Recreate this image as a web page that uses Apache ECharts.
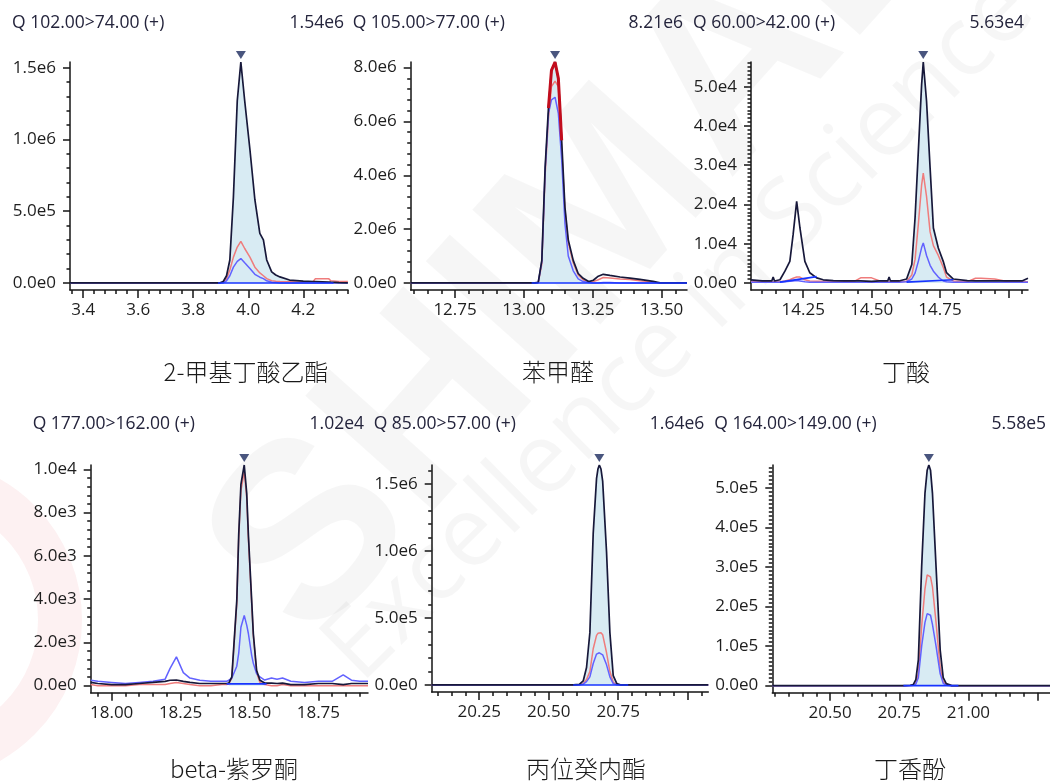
<!DOCTYPE html>
<html>
<head>
<meta charset="utf-8">
<script src="https://cdn.jsdelivr.net/npm/echarts@6/dist/echarts.min.js"></script>
<style>
  html, body { margin: 0; padding: 0; background: #ffffff; }
  #chart { width: 1050px; height: 782px; }
</style>
</head>
<body>
<div id="chart"></div>
<script>
// ---- Compounds and MRM transitions ----
const compounds = ['2-甲基丁酸乙酯', '苯甲醛', '丁酸', 'beta-紫罗酮', '丙位癸内酯', '丁香酚'];
const transitions = ['Q 102.00>74.00 (+)', 'Q 105.00>77.00 (+)', 'Q 60.00>42.00 (+)',
                     'Q 177.00>162.00 (+)', 'Q 85.00>57.00 (+)', 'Q 164.00>149.00 (+)'];

// ---- Panel 1: 2-甲基丁酸乙酯 (intensity x 1e6) ----
const scale1 = 1e6;
const time1  = [3.352, 3.50, 3.70, 3.88, 3.895, 3.909, 3.921, 3.933, 3.946, 3.960, 3.973, 3.987, 4.006, 4.024, 4.042, 4.055, 4.067, 4.085, 4.100, 4.115, 4.150, 4.200, 4.236, 4.244, 4.270, 4.292, 4.300, 4.330, 4.362];
const quant1 = [0, 0, 0, 0, 0, 0.01, 0.05, 0.16, 0.60, 1.27, 1.54, 1.27, 0.93, 0.58, 0.345, 0.30, 0.16, 0.077, 0.055, 0.042, 0.02, 0.012, 0.01, 0.01, 0.008, 0.006, 0.005, 0.002, 0];
const refA1  = [0, 0, 0, 0, 0, 0.005, 0.03, 0.09, 0.18, 0.25, 0.29, 0.24, 0.18, 0.11, 0.07, 0.05, 0.03, 0.015, 0.012, 0.01, 0.008, 0.005, 0.01, 0.03, 0.03, 0.03, 0.015, 0.01, 0.01];
const refB1  = [0, 0, 0, 0, 0, 0, 0.015, 0.05, 0.11, 0.15, 0.17, 0.14, 0.10, 0.06, 0.04, 0.03, 0.015, 0.005, 0.003, 0, 0, 0, 0, 0, 0, 0, 0, 0, 0];
const area1  = [3.895, 4.30];
const baseT1 = [3.89, 4.31];
const baseV1 = [0, 0];

// ---- Panel 2: 苯甲醛 (x 1e6) ----
const scale2 = 1e6;
const time2  = [12.589, 12.80, 13.00, 13.040, 13.052, 13.065, 13.077, 13.089, 13.100, 13.113, 13.125, 13.137, 13.149, 13.161, 13.179, 13.197, 13.215, 13.235, 13.252, 13.270, 13.288, 13.312, 13.349, 13.385, 13.421, 13.469, 13.494, 13.540, 13.592];
const quant2 = [0, 0, 0, 0, 0.02, 0.84, 4.3, 6.5, 7.9, 8.21, 7.6, 5.3, 2.8, 1.6, 0.84, 0.35, 0.17, 0.05, 0.1, 0.25, 0.32, 0.28, 0.22, 0.18, 0.13, 0.06, 0, 0, 0];
const refA2  = [0, 0, 0, 0, 0.01, 0.7, 4.0, 6.1, 7.3, 7.5, 7.3, 5.0, 2.7, 1.5, 0.75, 0.3, 0.12, 0.03, 0.05, 0.12, 0.2, 0.18, 0.15, 0.13, 0.08, 0.03, 0, 0, 0];
const refB2  = [0, 0, 0, 0, 0.02, 0.8, 4.2, 6.3, 6.8, 6.9, 6.3, 4.6, 2.2, 1.0, 0.45, 0.15, 0.05, 0.02, 0, 0, 0.02, 0.02, 0, 0, 0, 0, 0, 0, 0];
const area2  = [13.04, 13.245];
const baseT2 = [13.028, 13.592];
const baseV2 = [0, 0];
const saturated2 = [13.089, 13.137];   // apex section flagged in dark red

// ---- Panel 3: 丁酸 (x 1e4) ----
const scale3 = 1e4;
const time3  = [14.059, 14.10, 14.135, 14.140, 14.145, 14.165, 14.183, 14.201, 14.213, 14.226, 14.238, 14.256, 14.274, 14.299, 14.323, 14.360, 14.400, 14.440, 14.460, 14.500, 14.530, 14.559, 14.564, 14.569, 14.600, 14.628, 14.647, 14.659, 14.671, 14.683, 14.689, 14.701, 14.714, 14.726, 14.744, 14.762, 14.774, 14.799, 14.850, 14.880, 14.900, 14.950, 15.000, 15.050, 15.072];
const quant3 = [0.08, 0.05, 0.05, 0.15, 0.05, 0.08, 0.3, 0.55, 1.23, 2.08, 1.4, 0.55, 0.26, 0.13, 0.08, 0.06, 0.05, 0.05, 0.05, 0.04, 0.05, 0.05, 0.15, 0.05, 0.05, 0.1, 0.47, 1.66, 3.36, 5.06, 5.63, 4.63, 2.93, 1.4, 0.89, 0.55, 0.26, 0.1, 0.06, 0.05, 0.05, 0.05, 0.05, 0.05, 0.12];
const refA3  = [0.03, 0.03, 0.03, 0.03, 0.03, 0.03, 0.05, 0.08, 0.12, 0.15, 0.15, 0.08, 0.05, 0.04, 0.04, 0.03, 0.03, 0.05, 0.13, 0.13, 0.05, 0.03, 0.03, 0.03, 0.03, 0.04, 0.2, 0.6, 1.5, 2.5, 2.8, 2.2, 1.3, 0.95, 0.7, 0.4, 0.15, 0.05, 0.03, 0.12, 0.12, 0.1, 0.03, 0.03, 0.03];
const refB3  = [0.02, 0.02, 0.02, 0.02, 0.02, 0.02, 0.03, 0.04, 0.05, 0.06, 0.05, 0.03, 0.02, 0.02, 0.02, 0.02, 0.02, 0.02, 0.02, 0.02, 0.02, 0.02, 0.02, 0.02, 0.02, 0.03, 0.1, 0.25, 0.55, 0.9, 1.02, 0.7, 0.45, 0.3, 0.15, 0.05, 0.03, 0.02, 0.02, 0.02, 0.02, 0.02, 0.02, 0.02, 0.02];
const area3  = [14.628, 14.799];
const baseT3 = [14.165, 14.299, null, 14.628, 14.799];
const baseV3 = [0.02, 0.16, null, 0.02, 0.08];

// ---- Panel 4: beta-紫罗酮 (x 1e3) ----
const scale4 = 1e3;
const time4  = [17.924, 17.95, 18.00, 18.05, 18.10, 18.15, 18.194, 18.212, 18.235, 18.26, 18.284, 18.32, 18.36, 18.40, 18.417, 18.425, 18.436, 18.454, 18.461, 18.469, 18.481, 18.490, 18.496, 18.508, 18.514, 18.526, 18.538, 18.555, 18.58, 18.60, 18.62, 18.65, 18.70, 18.75, 18.80, 18.84, 18.87, 18.90, 18.93];
const quant4 = [0.15, 0.1, 0.05, 0.05, 0.1, 0.15, 0.2, 0.25, 0.26, 0.2, 0.15, 0.1, 0.1, 0.1, 0.1, 0.12, 0.41, 3.94, 7.0, 9.3, 10.2, 8.9, 7.0, 3.94, 2.4, 0.7, 0.25, 0.12, 0.12, 0.1, 0.12, 0.05, 0.05, 0.1, 0.1, 0.05, 0.1, 0.1, 0.1];
const refA4  = [0.05, 0, 0, 0, 0.05, 0.05, 0.05, 0.1, 0.15, 0.1, 0.05, 0, 0, 0.05, 0.05, 0.08, 0.35, 3.8, 6.8, 9.0, 9.9, 8.7, 6.8, 3.8, 2.3, 0.6, 0.15, 0.05, 0, 0, 0.05, 0, 0, 0, 0, 0, 0, 0, 0];
const refB4  = [0.25, 0.2, 0.15, 0.1, 0.15, 0.2, 0.3, 0.8, 1.33, 0.6, 0.35, 0.25, 0.2, 0.2, 0.2, 0.25, 0.35, 0.9, 1.5, 2.7, 3.25, 2.8, 2.41, 1.4, 1.03, 0.55, 0.4, 0.26, 0.35, 0.3, 0.35, 0.2, 0.15, 0.2, 0.2, 0.5, 0.25, 0.2, 0.2];
const area4  = [18.425, 18.555];
const baseT4 = [18.417, 18.562];
const baseV4 = [0.08, 0.08];

// ---- Panel 5: 丙位癸内酯 (x 1e6) ----
const scale5 = 1e6;
const time5  = [20.079, 20.30, 20.50, 20.588, 20.610, 20.624, 20.636, 20.648, 20.660, 20.672, 20.677, 20.682, 20.688, 20.694, 20.708, 20.720, 20.732, 20.745, 20.760, 20.786, 20.90, 21.074];
const quant5 = [0, 0, 0, 0, 0.005, 0.03, 0.13, 0.39, 1.13, 1.54, 1.61, 1.64, 1.61, 1.52, 0.99, 0.39, 0.07, 0.01, 0, 0, 0, 0];
const refA5  = [0, 0, 0, 0, 0.002, 0.01, 0.04, 0.1, 0.27, 0.37, 0.385, 0.39, 0.39, 0.375, 0.24, 0.1, 0.02, 0.003, 0, 0, 0, 0];
const refB5  = [0, 0, 0, 0, 0.001, 0.006, 0.025, 0.06, 0.16, 0.23, 0.238, 0.24, 0.238, 0.225, 0.15, 0.06, 0.01, 0.002, 0, 0, 0, 0];
const area5  = [20.61, 20.76];
const baseT5 = [20.588, 20.786];
const baseV5 = [0, 0];

// ---- Panel 6: 丁香酚 (x 1e5) ----
const scale6 = 1e5;
const time6  = [20.291, 20.50, 20.70, 20.765, 20.790, 20.801, 20.810, 20.819, 20.831, 20.843, 20.851, 20.857, 20.863, 20.870, 20.883, 20.898, 20.909, 20.920, 20.940, 20.964, 21.10, 21.295];
const quant6 = [0, 0, 0, 0, 0.01, 0.03, 0.15, 0.65, 3.01, 4.87, 5.45, 5.58, 5.45, 4.87, 3.01, 0.9, 0.2, 0.05, 0, 0, 0, 0];
const refA6  = [0, 0, 0, 0, 0.005, 0.01, 0.06, 0.3, 1.5, 2.45, 2.8, 2.85, 2.75, 2.5, 1.6, 0.45, 0.1, 0.02, 0, 0, 0, 0];
const refB6  = [0, 0, 0, 0, 0.003, 0.01, 0.04, 0.2, 1.0, 1.6, 1.82, 1.86, 1.78, 1.55, 1.0, 0.3, 0.06, 0.01, 0, 0, 0, 0];
const area6  = [20.80, 20.92];
const baseT6 = [20.765, 20.964];
const baseV6 = [0, 0];

// ---- Axis ranges and tick values ----
const xRanges = [[3.352, 4.3625], [12.589, 13.592], [14.059, 15.072], [17.924, 18.93], [20.079, 21.074], [20.291, 21.295]];
const xTickLabels = [[3.4, 3.6, 3.8, 4.0, 4.2], [12.75, 13.0, 13.25, 13.5], [14.25, 14.5, 14.75],
                     [18.0, 18.25, 18.5, 18.75], [20.25, 20.5, 20.75], [20.5, 20.75, 21.0]];
const xMajorTicks = [[3.4, 3.6, 3.8, 4.0, 4.2], [12.75, 13.0, 13.25, 13.5], [14.25, 14.5, 14.75, 15.0],
                     [18.0, 18.25, 18.5, 18.75], [20.25, 20.5, 20.75, 21.0], [20.5, 20.75, 21.0, 21.25]];
const xMinorStep = [0.04, 0.05, 0.05, 0.05, 0.05, 0.05];
const xDecimals = [1, 2, 2, 2, 2, 2];
const yTickLabels = [[0, 5e5, 1e6, 1.5e6], [0, 2e6, 4e6, 6e6, 8e6], [0, 1e4, 2e4, 3e4, 4e4, 5e4],
                     [0, 2e3, 4e3, 6e3, 8e3, 1e4], [0, 5e5, 1e6, 1.5e6], [0, 1e5, 2e5, 3e5, 4e5, 5e5]];
const yMinorStep = [1e5, 4e5, 1e3, 400, 1e5, 1e4];

const panels = [
  { scale: scale1, t: time1, q: quant1, a: refA1, b: refB1, area: area1, bt: baseT1, bv: baseV1 },
  { scale: scale2, t: time2, q: quant2, a: refA2, b: refB2, area: area2, bt: baseT2, bv: baseV2, sat: saturated2 },
  { scale: scale3, t: time3, q: quant3, a: refA3, b: refB3, area: area3, bt: baseT3, bv: baseV3 },
  { scale: scale4, t: time4, q: quant4, a: refA4, b: refB4, area: area4, bt: baseT4, bv: baseV4 },
  { scale: scale5, t: time5, q: quant5, a: refA5, b: refB5, area: area5, bt: baseT5, bv: baseV5 },
  { scale: scale6, t: time6, q: quant6, a: refA6, b: refB6, area: area6, bt: baseT6, bv: baseV6 }
];

// ---- Layout (pixels) ----
const grids = [
  { left: 70,    top: 62,  width: 278,   height: 228 },
  { left: 410.7, top: 62,  width: 276.3, height: 228 },
  { left: 751,   top: 62,  width: 277,   height: 228 },
  { left: 90.7,  top: 465, width: 277.3, height: 227.7 },
  { left: 431.7, top: 465, width: 276.6, height: 227 },
  { left: 772.3, top: 465, width: 277.7, height: 227.7 }
];
const headerY = [23, 23, 23, 424, 424, 424];
const nameX = [246, 558, 906, 234, 586, 910];
const nameY = [372, 372, 372, 769, 769, 769];
const bottomPad = 0.032;   // room between the zero level and the time axis

const C = {
  axis: '#141414', text: '#1e1e1e', header: '#24243c',
  quant: '#17183a', refA: '#ef7c7c', refB: '#6262ff',
  base: '#1734ff', fill: '#d8ebf3', marker: '#1b2a5e', sat: '#c20d1d'
};
const tickFont = '"Open Sans", "Noto Sans", sans-serif';

const expLabel = v => v.toExponential(1).replace('e+', 'e');
const steps = (lo, hi, step) => {
  const out = [];
  for (let k = Math.ceil(lo / step - 1e-9); k * step <= hi + 1e-9; k++) out.push(+(k * step).toFixed(6));
  return out;
};

const option = { animation: false, backgroundColor: '#ffffff', grid: [], xAxis: [], yAxis: [], series: [], graphic: [] };

// faint corporate watermark behind the plots
option.graphic.push(
  { type: 'text', x: 700, y: 110, rotation: 0.84, z: -20, silent: true,
    style: { text: 'SHIMADZU', font: 'bold 250px "Liberation Sans", Arial, sans-serif', fill: 'rgba(0,0,0,0.035)', align: 'center', verticalAlign: 'middle' } },
  { type: 'text', x: 680, y: 330, rotation: 0.78, z: -20, silent: true,
    style: { text: 'Excellence in Science', font: '98px "Open Sans", sans-serif', fill: 'rgba(0,0,0,0.035)', align: 'center', verticalAlign: 'middle' } },
  { type: 'circle', shape: { cx: -80, cy: 620, r: 140 }, z: -20, silent: true,
    style: { fill: 'none', stroke: 'rgba(220,20,30,0.06)', lineWidth: 44 } }
);

panels.forEach((p, i) => {
  const g = grids[i];
  option.grid.push({ left: g.left, top: g.top, width: g.width, height: g.height });

  const pts = arr => p.t.map((t, k) => [t, arr[k] * p.scale]);
  const quantPts = pts(p.q);
  let peakIdx = 0;
  p.q.forEach((v, k) => { if (v > p.q[peakIdx]) peakIdx = k; });
  const peak = quantPts[peakIdx];
  const yMax = peak[1];
  const yMin = -yMax * bottomPad;
  const [xMin, xMax] = xRanges[i];

  const lineStyle = { color: C.axis, width: 1.5 };
  // main time axis + minor ticks
  option.xAxis.push({
    type: 'value', gridIndex: i, min: xMin, max: xMax, position: 'bottom',
    axisLine: { show: true, onZero: false, lineStyle },
    axisTick: { show: true, customValues: xMajorTicks[i], length: 8, lineStyle },
    axisLabel: { customValues: xTickLabels[i], formatter: v => v.toFixed(xDecimals[i]),
                 fontSize: 17, color: C.text, margin: 12, fontFamily: tickFont },
    splitLine: { show: false }
  });
  option.xAxis.push({
    type: 'value', gridIndex: i, min: xMin, max: xMax, position: 'bottom',
    axisLine: { show: false, onZero: false },
    axisTick: { show: true, customValues: steps(xMin, xMax, xMinorStep[i]), length: 4, lineStyle },
    axisLabel: { show: false }, splitLine: { show: false }
  });
  // intensity axis + minor ticks
  option.yAxis.push({
    type: 'value', gridIndex: i, min: yMin, max: yMax, position: 'left',
    axisLine: { show: true, onZero: false, lineStyle },
    axisTick: { show: true, customValues: yTickLabels[i], length: 7, lineStyle },
    axisLabel: { customValues: yTickLabels[i], formatter: expLabel,
                 fontSize: 17, color: C.text, margin: 14, fontFamily: tickFont },
    splitLine: { show: false }
  });
  option.yAxis.push({
    type: 'value', gridIndex: i, min: yMin, max: yMax, position: 'left',
    axisLine: { show: false, onZero: false },
    axisTick: { show: true, customValues: steps(0, yMax, yMinorStep[i]), length: 3.5, lineStyle },
    axisLabel: { show: false }, splitLine: { show: false }
  });

  const xi = 2 * i, yi = 2 * i;
  const base = { type: 'line', xAxisIndex: xi, yAxisIndex: yi, showSymbol: false, symbol: 'none', silent: true };

  // integrated peak area
  option.series.push(Object.assign({}, base, {
    data: quantPts.filter(d => d[0] >= p.area[0] && d[0] <= p.area[1]),
    lineStyle: { width: 0 }, areaStyle: { color: C.fill, opacity: 1, origin: 0 }, z: 1
  }));
  option.series.push(Object.assign({}, base, { data: pts(p.a), lineStyle: { color: C.refA, width: 1.5 }, z: 3 }));
  option.series.push(Object.assign({}, base, { data: pts(p.b), lineStyle: { color: C.refB, width: 1.5 }, z: 3 }));
  option.series.push(Object.assign({}, base, { data: quantPts, lineStyle: { color: C.quant, width: 1.7 }, z: 4 }));
  if (p.sat) {
    option.series.push(Object.assign({}, base, {
      data: quantPts.filter(d => d[0] >= p.sat[0] && d[0] <= p.sat[1]),
      lineStyle: { color: C.sat, width: 3 }, z: 5
    }));
  }
  // integration baseline
  option.series.push(Object.assign({}, base, {
    data: p.bt.map((t, k) => (t === null ? '-' : [t, p.bv[k] * p.scale])), connectNulls: false,
    lineStyle: { color: C.base, width: 1.6 }, z: 6
  }));
  // peak top marker
  option.series.push({
    type: 'scatter', xAxisIndex: xi, yAxisIndex: yi, data: [peak], silent: true,
    symbol: 'triangle', symbolRotate: 180, symbolSize: [10, 8], symbolOffset: [0, -7],
    itemStyle: { color: C.marker }, z: 7
  });

  // headers: transition on the left, peak intensity on the right
  option.graphic.push({
    type: 'text', x: g.left - 58, y: headerY[i], z: 10, silent: true,
    style: { text: transitions[i], font: '17.5px ' + tickFont, fill: C.header, align: 'left', verticalAlign: 'middle' }
  });
  option.graphic.push({
    type: 'text', x: g.left + g.width - 4, y: headerY[i], z: 10, silent: true,
    style: { text: yMax.toExponential(2).replace('e+', 'e'), font: '17.5px ' + tickFont, fill: C.header, align: 'right', verticalAlign: 'middle' }
  });
  // compound name under the panel
  option.graphic.push({
    type: 'text', x: nameX[i], y: nameY[i], z: 10, silent: true,
    style: { text: compounds[i], font: '300 24px "Noto Sans CJK SC", "Noto Sans", sans-serif', fill: '#1a1a1a', align: 'center', verticalAlign: 'middle' }
  });
});

const chart = echarts.init(document.getElementById('chart'), null, { renderer: 'canvas' });
chart.setOption(option);
</script>
</body>
</html>
